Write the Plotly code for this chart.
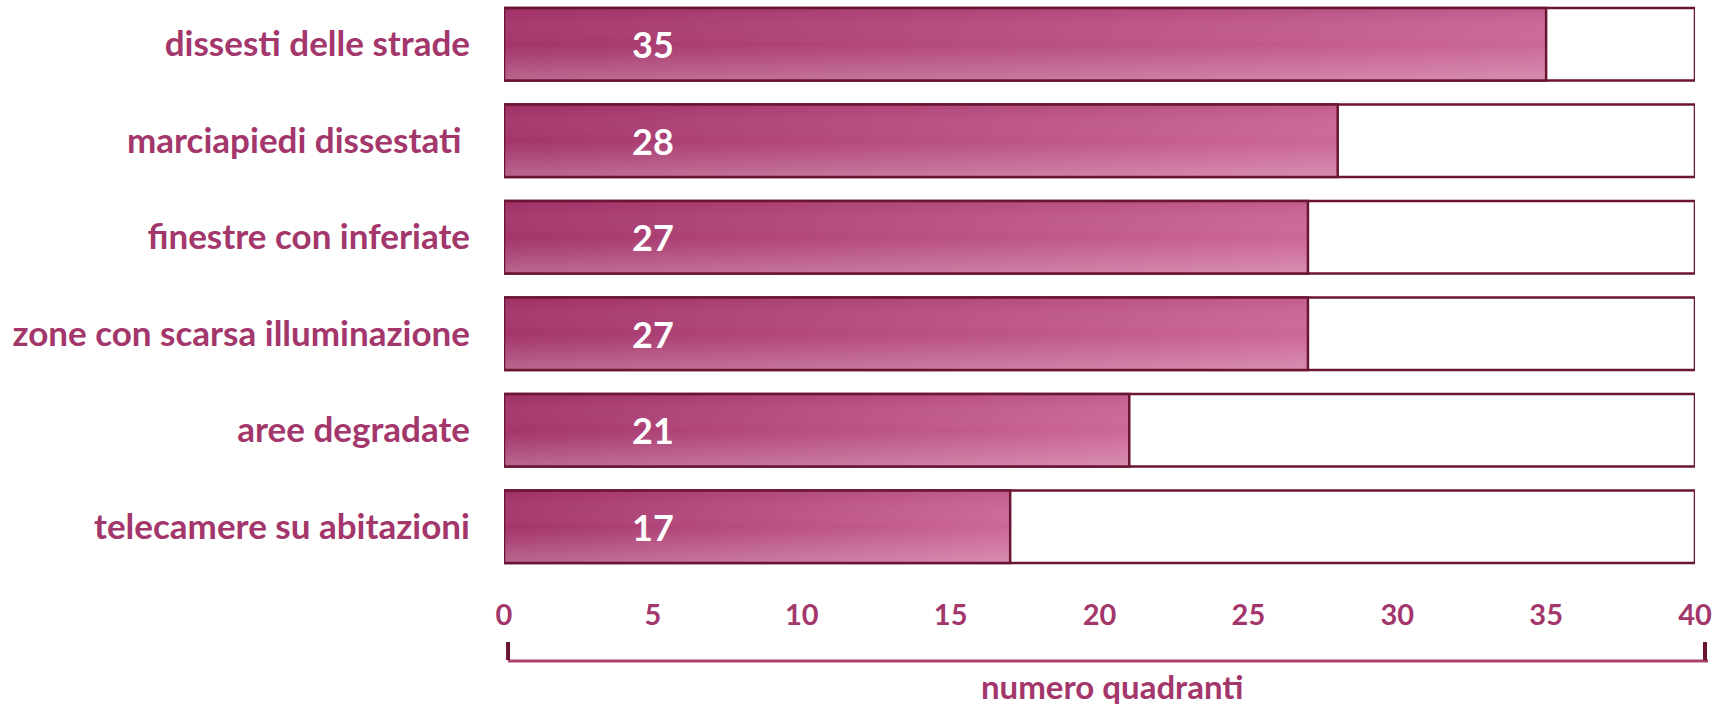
import plotly.graph_objects as go

categories = ["dissesti delle strade", "marciapiedi dissestati\u00a0", "finestre con inferiate",
              "zone con scarsa illuminazione", "aree degradate", "telecamere su abitazioni"]
values = [35, 28, 27, 27, 21, 17]
axis_max = 40
x_ticks = [0, 5, 10, 15, 20, 25, 30, 35, 40]
x_title = "numero quadranti"

TEXT = "#a3366b"
EDGE = "#6b1535"
FONT = "Lato"
BW = 0.75

positions = list(range(len(categories)))

fig = go.Figure()

# background full-scale outlined bars
fig.add_trace(go.Bar(
    x=[axis_max] * len(categories), y=positions, orientation="h", width=BW,
    marker=dict(color="white", line=dict(color=EDGE, width=2.5)),
    hoverinfo="skip", showlegend=False))

# value bars with gradient fill
for i, v in enumerate(values):
    xs = [0, v, v, 0, 0]
    ys = [i - BW / 2, i - BW / 2, i + BW / 2, i + BW / 2, i - BW / 2]
    fig.add_trace(go.Scatter(
        x=xs, y=ys, mode="lines", fill="toself",
        fillgradient=dict(type="horizontal",
                          colorscale=[[0, "#a3346a"], [1, "#cc6898"]]),
        line=dict(color="rgba(0,0,0,0)", width=0),
        hoverinfo="skip", showlegend=False))
    fig.add_trace(go.Scatter(
        x=xs, y=ys, mode="lines", fill="toself",
        fillgradient=dict(type="vertical",
                          colorscale=[[0, "rgba(255,255,255,0.25)"], [0.5, "rgba(255,255,255,0.0)"],
                                      [1, "rgba(130,20,70,0.15)"]]),
        line=dict(color=EDGE, width=2.5),
        hoverinfo="skip", showlegend=False))
    fig.add_annotation(x=5, y=i, text=str(v), showarrow=False,
                       font=dict(family=FONT, size=36, color="white", weight="bold"),
                       xanchor="center", yanchor="middle")

fig.update_layout(
    width=1726, height=707,
    margin=dict(l=504, r=31, t=0, b=132),
    paper_bgcolor="white", plot_bgcolor="white",
    barmode="overlay",
    font=dict(family=FONT, color=TEXT),
)
fig.update_xaxes(range=[0, axis_max], tickvals=x_ticks, ticktext=[str(t) for t in x_ticks],
                 showgrid=False, zeroline=False, showline=False, ticks="",
                 ticklabelstandoff=20,
                 tickfont=dict(family=FONT, size=29, color=TEXT, weight="bold"))
fig.update_yaxes(range=[5.5, -0.458], tickvals=positions, ticktext=categories,
                 showgrid=False, zeroline=False, showline=False, ticks="",
                 ticklabelstandoff=33,
                 tickfont=dict(family=FONT, size=35, color=TEXT, weight="bold"))

# bracket under the axis
fig.add_shape(type="line", xref="paper", yref="paper", x0=0.0034, x1=1.0109, y0=-0.1496, y1=-0.1496,
              line=dict(color="#a8416f", width=3))
for xv in (0.0034, 1.0084):
    fig.add_shape(type="line", xref="paper", yref="paper", x0=xv, x1=xv, y0=-0.1165, y1=-0.148,
                  line=dict(color=EDGE, width=4))

fig.add_annotation(x=0.511, y=-0.229, xref="paper", yref="paper", text=x_title, showarrow=False,
                   font=dict(family=FONT, size=33, color=TEXT, weight="bold"),
                   xanchor="center", yanchor="bottom", borderpad=0)

fig.write_html("out.html")
